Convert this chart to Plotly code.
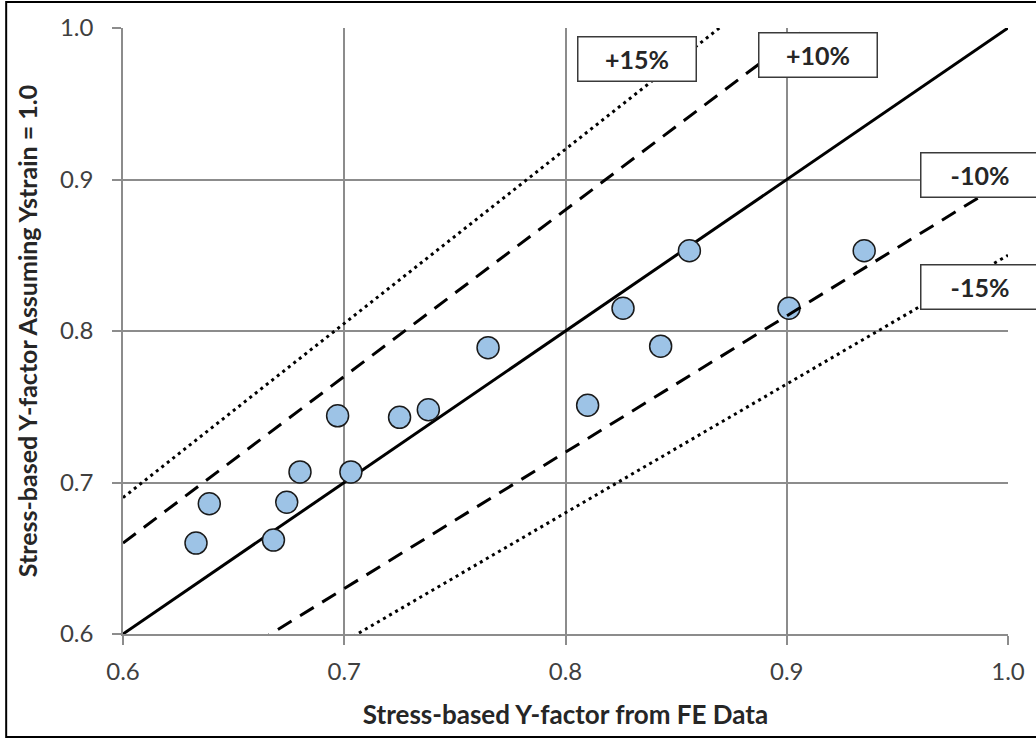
import plotly.graph_objects as go

# Data points
fe_y = [0.633, 0.639, 0.668, 0.674, 0.680, 0.697, 0.703, 0.725, 0.738, 0.765,
        0.810, 0.826, 0.843, 0.856, 0.901, 0.935]
assumed_y = [0.660, 0.686, 0.662, 0.687, 0.707, 0.744, 0.707, 0.743, 0.748, 0.789,
             0.751, 0.815, 0.790, 0.853, 0.815, 0.853]

# Reference ratio lines (y = ratio * x)
line_ratios = [1.0, 1.1, 1.15, 0.9, 0.85]
line_dash = ["solid", "dash", "dot", "dash", "dot"]
band_labels = ["+10%", "+15%", "-10%", "-15%"]
label_x = [0.9141, 0.8323, 0.9873, 0.9873]
label_y = [0.9822, 0.9795, 0.903, 0.829]

axis_range = [0.6, 1.0]
tick_vals = [0.6, 0.7, 0.8, 0.9, 1.0]
tick_text = ["0.6", "0.7", "0.8", "0.9", "1.0"]

FONT = "Lato"
DASHES = {"solid": "solid", "dash": "16px,10px", "dot": "3px,4px"}

fig = go.Figure()

def ratio_trace(r, dash):
    xs = axis_range
    ys = [r * v for v in xs]
    return go.Scatter(x=xs, y=ys, mode="lines",
                      line=dict(color="black", width=3, dash=DASHES[dash]),
                      showlegend=False, hoverinfo="skip")

# solid 1:1 line first
fig.add_trace(ratio_trace(line_ratios[0], line_dash[0]))
fig.add_trace(go.Scatter(x=fe_y, y=assumed_y, mode="markers",
                         marker=dict(size=22, color="#9DC3E6",
                                     line=dict(color="#1a1a1a", width=1.5)),
                         showlegend=False))
for r, d in zip(line_ratios[1:], line_dash[1:]):
    fig.add_trace(ratio_trace(r, d))

for t, lx, ly in zip(band_labels, label_x, label_y):
    fig.add_annotation(x=lx, y=ly, xref="x", yref="y", text="<b>%s</b>" % t,
                       showarrow=False, font=dict(family=FONT, size=25, color="#262626"),
                       bgcolor="white", bordercolor="#3a3a3a", borderwidth=1.5,
                       borderpad=0, width=117, height=43)

grid = "#8c8c8c"
common = dict(range=axis_range, tickvals=tick_vals, ticktext=tick_text,
              showgrid=True, gridcolor=grid, gridwidth=1.5,
              showline=True, linecolor=grid, linewidth=1.5,
              ticks="outside", ticklen=9, tickcolor=grid, tickwidth=1.5,
              zeroline=False, tickfont=dict(family=FONT, size=24, color="#404040"))
fig.update_xaxes(**common, ticklabelstandoff=6,
                 title=dict(text="<b>Stress-based Y-factor from FE Data</b>",
                            font=dict(family=FONT, size=26, color="#262626"), standoff=22))
fig.update_yaxes(**common, ticklabelstandoff=14,
                 title=dict(text="<b>Stress-based Y-factor Assuming Ystrain = 1.0</b>",
                            font=dict(family=FONT, size=25, color="#262626"), standoff=15))

# outer frame
fig.add_shape(type="rect", xref="paper", yref="paper", x0=-0.132, x1=1.2, y0=-0.170, y1=1.043,
              line=dict(color="black", width=2), fillcolor="rgba(0,0,0,0)", layer="below")

fig.update_layout(width=1036, height=740, margin=dict(l=123, r=28, t=28, b=106),
                  plot_bgcolor="white", paper_bgcolor="white")

fig.write_html("out.html", config={"displayModeBar": False},
               post_script="document.body.style.margin='0px';")
